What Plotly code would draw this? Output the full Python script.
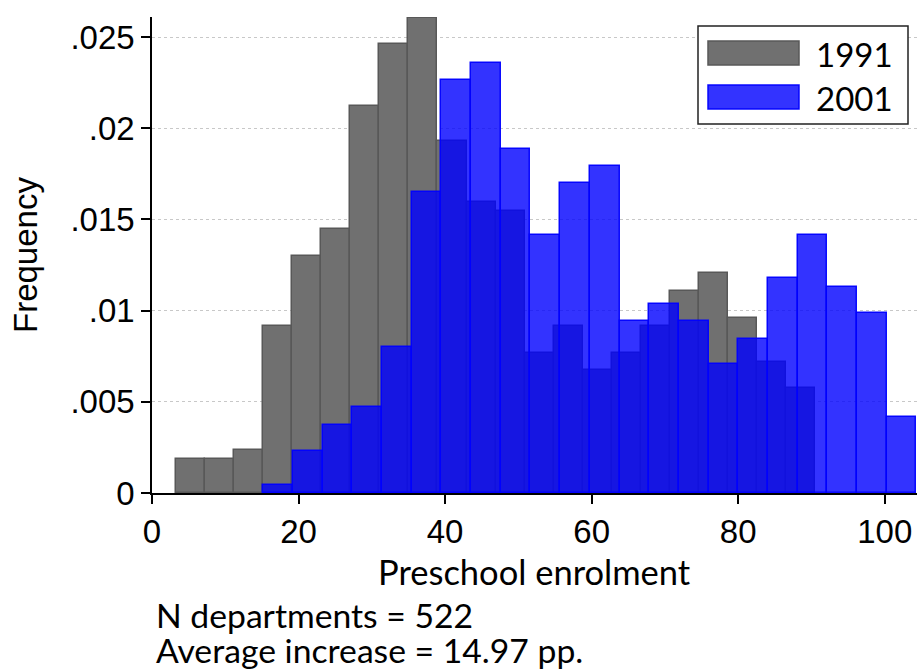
import plotly.graph_objects as go

# Histogram of preschool enrolment across departments (density scale), 22 bins per year
bins_1991_start = 3.27
bins_1991_width = 3.965
density_1991 = [0.00188, 0.00188, 0.00237, 0.00916, 0.01301, 0.01447, 0.02121, 0.02462,
                0.02607, 0.01931, 0.01594, 0.01546, 0.00770, 0.00916, 0.00675, 0.00770,
                0.00916, 0.01108, 0.01205, 0.00962, 0.00721, 0.00578]

bins_2001_start = 15.2
bins_2001_width = 4.05
density_2001 = [0.00042, 0.00233, 0.00374, 0.00469, 0.00801, 0.01652, 0.02267, 0.02360,
                0.01887, 0.01414, 0.01699, 0.01794, 0.00942, 0.01037, 0.00943, 0.00706,
                0.00845, 0.01177, 0.01414, 0.01130, 0.00989, 0.00419]

series_names = ["1991", "2001"]
x_ticks = [0, 20, 40, 60, 80, 100]
y_ticks = [0, 0.005, 0.01, 0.015, 0.02, 0.025]
y_tick_labels = ["0", ".005", ".01", ".015", ".02", ".025"]
note_lines = ["N departments = 522", "Average increase = 14.97 pp."]

GRAY_FILL = "#707070"
GRAY_LINE = "#585858"
BLUE_FILL = "rgba(0,0,255,0.8)"
BLUE_LINE = "rgba(0,0,255,0.95)"

W, H = 920, 669
M = dict(l=152, r=3, t=17, b=176)
PW = W - M["l"] - M["r"]
PH = H - M["t"] - M["b"]


def px_x(px):
    return (px - M["l"]) / PW


def px_y(py):
    return (H - M["b"] - py) / PH


def centers(start, width, n):
    return [start + width * (i + 0.5) for i in range(n)]


fig = go.Figure()
fig.add_trace(go.Bar(
    x=centers(bins_1991_start, bins_1991_width, len(density_1991)),
    y=density_1991, width=bins_1991_width, base=0,
    marker=dict(color=GRAY_FILL, line=dict(color=GRAY_LINE, width=1.5)),
    name=series_names[0], showlegend=False,
))
fig.add_trace(go.Bar(
    x=centers(bins_2001_start, bins_2001_width, len(density_2001)),
    y=density_2001, width=bins_2001_width, base=0,
    marker=dict(color=BLUE_FILL, line=dict(color=BLUE_LINE, width=1.5)),
    name=series_names[1], showlegend=False,
))

tick_font = dict(family="Liberation Sans, Arial, sans-serif", size=33, color="black")
lato = dict(family="Lato, sans-serif", size=33, color="black")
lato_title = dict(family="Lato, sans-serif", size=34.5, color="black")
lato_note = dict(family="Lato, sans-serif", size=33.7, color="black")

fig.update_layout(
    width=W, height=H, margin=M,
    paper_bgcolor="white", plot_bgcolor="white",
    barmode="overlay", bargap=0,
    showlegend=False,
    xaxis=dict(
        range=[0, 104.4], tickvals=x_ticks, ticks="outside", ticklen=9, tickwidth=1.5,
        tickcolor="black", showline=True, linecolor="black", linewidth=1.5,
        showgrid=False, zeroline=False, tickfont=tick_font,
    ),
    yaxis=dict(
        range=[0, 0.0261], tickvals=y_ticks, ticktext=y_tick_labels, ticks="outside",
        ticklen=9, tickwidth=1.5, tickcolor="black", showline=True, linecolor="black",
        linewidth=1.5, showgrid=True, gridcolor="#c8c8c8", griddash="dot", gridwidth=1,
        zeroline=False, tickfont=tick_font,
    ),
)

shapes = []
annotations = []

# Legend box with wide swatches
shapes.append(dict(type="rect", xref="paper", yref="paper",
                   x0=px_x(698), x1=px_x(908), y0=px_y(124), y1=px_y(26),
                   line=dict(color="#222222", width=1.5), fillcolor="white", layer="above"))
swatches = [(GRAY_FILL, GRAY_LINE, 41, 65), (BLUE_FILL, BLUE_LINE, 85, 109)]
for name, (fill, edge, top, bottom) in zip(series_names, swatches):
    shapes.append(dict(type="rect", xref="paper", yref="paper",
                       x0=px_x(708), x1=px_x(799), y0=px_y(bottom), y1=px_y(top),
                       line=dict(color=edge, width=1.5), fillcolor=fill, layer="above"))
    annotations.append(dict(text=name, xref="paper", yref="paper",
                            x=px_x(814), y=px_y((top + bottom) / 2 + 1),
                            xanchor="left", yanchor="middle", showarrow=False, font=lato))

# Axis titles
annotations.append(dict(text="Preschool enrolment", xref="paper", yref="paper",
                        x=0.5, y=px_y(571), xanchor="center", yanchor="middle",
                        showarrow=False, font=lato_title))
annotations.append(dict(text="Frequency", xref="paper", yref="paper",
                        x=px_x(25), y=0.5, xanchor="center", yanchor="middle",
                        textangle=-90, showarrow=False, font=tick_font))

# Notes under the chart
for line, yc in zip(note_lines, [615, 650]):
    annotations.append(dict(text=line, xref="paper", yref="paper",
                            x=px_x(154), y=px_y(yc), xanchor="left", yanchor="middle",
                            showarrow=False, font=lato_note))

fig.update_layout(shapes=shapes, annotations=annotations)
fig.write_html("out.html")
